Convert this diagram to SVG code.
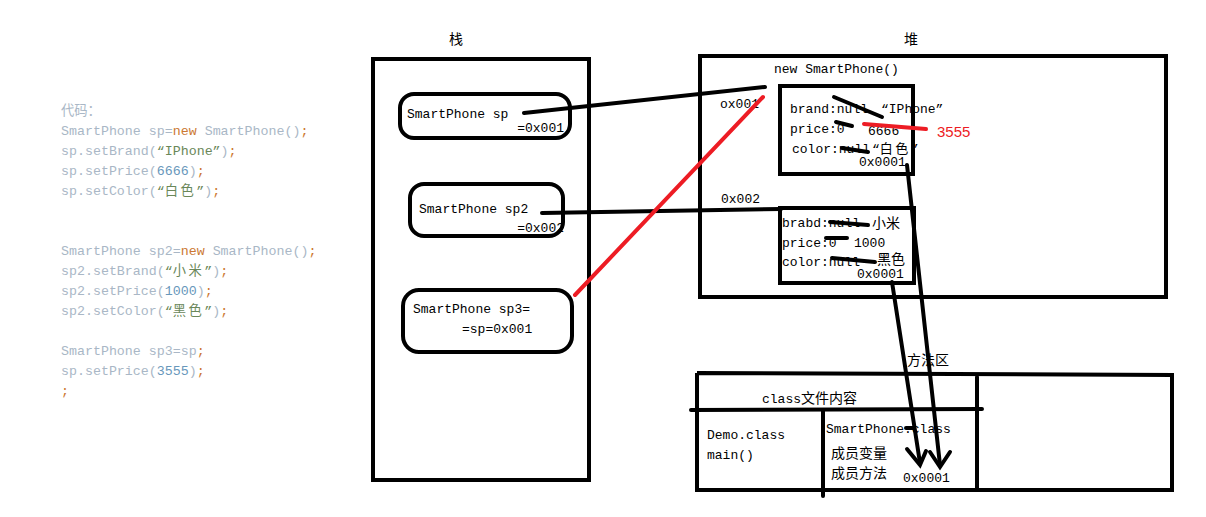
<svg xmlns="http://www.w3.org/2000/svg" width="1206" height="517" viewBox="0 0 1206 517">
  <style>
    .frame{fill:none;stroke:#000;stroke-width:4}
    .var{fill:#fff;stroke:#000;stroke-width:4}
    .mono{font-family:"Liberation Mono","Noto Sans CJK SC",monospace;font-size:13px;fill:#000}
    .cjk{font-family:"Noto Sans CJK SC",sans-serif;font-size:14px;fill:#000}
    .code{font-family:"Liberation Mono","Noto Sans CJK SC",monospace;font-size:13.3px;fill:#a9b7c6}
    .kw{fill:#cc7832}
    .str{fill:#6a8759}
    .num{fill:#6897bb}
    .han{letter-spacing:2.5px}
    .link{stroke:#000;stroke-width:4;stroke-linecap:round;fill:none}
    .red{stroke:#ed1c24;stroke-width:4;stroke-linecap:round;fill:none}
    .strike{stroke:#000;stroke-width:4;stroke-linecap:round}
    .rednum{font-family:"Liberation Sans",sans-serif;font-size:15px;fill:#ed1c24}
  </style>
  <rect width="1206" height="517" fill="#fff"/>

  <!-- source code listing -->
  <g id="code">
    <text class="code" x="61" y="115">代码：</text>
    <text class="code" x="61" y="135">SmartPhone sp=<tspan class="kw">new</tspan> SmartPhone()<tspan class="kw">;</tspan></text>
    <text class="code" x="61" y="155">sp.setBrand(<tspan class="str">“IPhone”</tspan>)<tspan class="kw">;</tspan></text>
    <text class="code" x="61" y="175">sp.setPrice(<tspan class="num">6666</tspan>)<tspan class="kw">;</tspan></text>
    <text class="code" x="61" y="195">sp.setColor(<tspan class="str">“<tspan class="han">白色</tspan>”</tspan>)<tspan class="kw">;</tspan></text>
    <text class="code" x="61" y="255">SmartPhone sp2=<tspan class="kw">new</tspan> SmartPhone()<tspan class="kw">;</tspan></text>
    <text class="code" x="61" y="275">sp2.setBrand(<tspan class="str">“<tspan class="han">小米</tspan>”</tspan>)<tspan class="kw">;</tspan></text>
    <text class="code" x="61" y="295">sp2.setPrice(<tspan class="num">1000</tspan>)<tspan class="kw">;</tspan></text>
    <text class="code" x="61" y="315">sp2.setColor(<tspan class="str">“<tspan class="han">黑色</tspan>”</tspan>)<tspan class="kw">;</tspan></text>
    <text class="code" x="61" y="355">SmartPhone sp3=sp<tspan class="kw">;</tspan></text>
    <text class="code" x="61" y="375">sp.setPrice(<tspan class="num">3555</tspan>)<tspan class="kw">;</tspan></text>
    <text class="code" x="61" y="395"><tspan class="kw">;</tspan></text>
  </g>

  <!-- stack -->
  <g id="stack">
    <text class="cjk" x="449" y="44" font-size="15">栈</text>
    <rect class="frame" x="373" y="59" width="216" height="421"/>
  </g>
  <g id="var-sp">
    <rect class="var" x="400" y="94" width="170" height="44" rx="14"/>
    <text class="mono" x="407" y="118">SmartPhone sp</text>
    <text class="mono" x="564" y="132" text-anchor="end">=0x001</text>
  </g>
  <g id="var-sp2">
    <rect class="var" x="410" y="184" width="153" height="52" rx="14"/>
    <text class="mono" x="419" y="213">SmartPhone sp2</text>
    <text class="mono" x="564" y="232" text-anchor="end">=0x002</text>
  </g>
  <g id="var-sp3">
    <rect class="var" x="403" y="290" width="169" height="62" rx="16"/>
    <text class="mono" x="413" y="313">SmartPhone sp3=</text>
    <text class="mono" x="462" y="333">=sp=0x001</text>
  </g>

  <!-- heap -->
  <g id="heap">
    <text class="cjk" x="904" y="44" font-size="15">堆</text>
    <rect class="frame" x="700" y="56" width="466" height="241"/>
    <text class="mono" x="774" y="73">new SmartPhone()</text>
    <text class="mono" x="720" y="108">ox001</text>
    <text class="mono" x="721" y="203">0x002</text>
  </g>
  <g id="obj-1">
    <rect class="frame" x="780" y="86" width="133" height="88"/>
    <text class="mono" x="790" y="113">brand:null</text>
    <text class="mono" x="881" y="113">“IPhone”</text>
    <text class="mono" x="790" y="133">price:0</text>
    <text class="mono" x="868" y="135">6666</text>
    <text class="mono" x="792" y="153">color:null</text>
    <text class="mono" x="872" y="153">“<tspan class="han">白色</tspan>”</text>
    <text class="mono" x="859" y="166">0x0001</text>
    <line class="strike" x1="834" y1="97" x2="882" y2="117"/>
    <line class="strike" x1="836" y1="122" x2="852" y2="126"/>
    <line class="strike" x1="842" y1="148" x2="868" y2="152"/>
    <line class="red" x1="864" y1="124" x2="926" y2="129" stroke-width="5"/>
    <text class="rednum" x="937" y="137">3555</text>
  </g>
  <g id="obj-2">
    <rect class="frame" x="780" y="208" width="134" height="75"/>
    <text class="mono" x="782" y="227">brabd:null</text>
    <text class="cjk" x="872" y="228">小米</text>
    <text class="mono" x="782" y="247">price:0</text>
    <text class="mono" x="854" y="247">1000</text>
    <text class="mono" x="782" y="266">color:null</text>
    <text class="cjk" x="877" y="264">黑色</text>
    <text class="mono" x="857" y="278">0x0001</text>
    <line class="strike" x1="830" y1="222" x2="868" y2="225"/>
    <line class="strike" x1="826" y1="238" x2="847" y2="238"/>
    <line class="strike" x1="832" y1="258" x2="875" y2="262"/>
  </g>

  <!-- method area -->
  <g id="method-area">
    <text class="cjk" x="907" y="365" font-size="15">方法区</text>
    <polyline class="frame" points="697,373 1172,375 1172,490 697,490 697,373"/>
    <line class="link" x1="691" y1="410" x2="982" y2="409"/>
    <line class="link" x1="823" y1="410" x2="823" y2="496"/>
    <line class="link" x1="977" y1="377" x2="977" y2="490"/>
    <text class="mono" x="762" y="403">class<tspan class="cjk">文件内容</tspan></text>
  </g>
  <g id="demo-class">
    <text class="mono" x="707" y="439">Demo.class</text>
    <text class="mono" x="707" y="459">main()</text>
  </g>
  <g id="phone-class">
    <text class="mono" x="826" y="433">SmartPhone.class</text>
    <line class="strike" x1="906" y1="428" x2="914" y2="428"/>
    <text class="cjk" x="831" y="458">成员变量</text>
    <text class="cjk" x="831" y="478">成员方法</text>
    <text class="mono" x="903" y="482">0x0001</text>
  </g>

  <!-- references -->
  <g id="connectors">
    <line class="link" x1="524" y1="113" x2="765" y2="87"/>
    <line class="link" x1="542" y1="213" x2="781" y2="209"/>
    <line class="red" x1="575" y1="295" x2="763" y2="97"/>
    <line class="link" x1="892" y1="282" x2="920" y2="463"/>
    <polyline class="link" points="907,449 920,465 926,451"/>
    <line class="link" x1="907" y1="165" x2="940" y2="465"/>
    <polyline class="link" points="930,452 940,467 950,452"/>
  </g>
</svg>
